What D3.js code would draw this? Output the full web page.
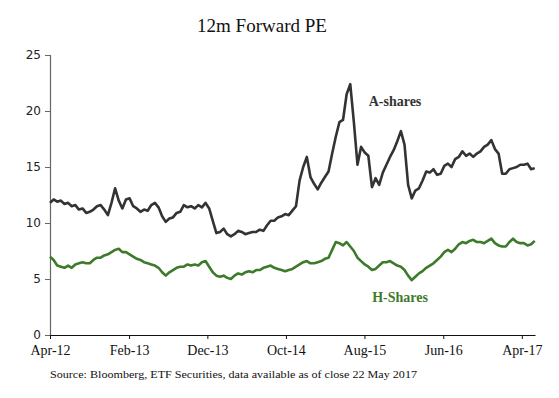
<!DOCTYPE html>
<html>
<head>
<meta charset="utf-8">
<script src="https://cdn.jsdelivr.net/npm/d3@7/dist/d3.min.js"></script>
<style>
  body { margin: 0; background: #fff; }
  svg { display: block; }
</style>
</head>
<body>
<div id="chart"></div>
<script>
// fortnightly readings from 1 Apr 2012 to 21 May 2017
const startDate = '2012-04-01';
const endDate = '2017-05-22';
const stepDays = 14;

const aShares = [
  11.8, 12.1, 11.9, 12.0, 11.7, 11.8, 11.5, 11.6, 11.2, 11.3,
  10.9, 11.0, 11.2, 11.5, 11.6, 11.2, 10.7, 11.8, 13.1, 12.0,
  11.3, 12.1, 12.2, 11.5, 11.3, 11.0, 11.2, 11.1, 11.6, 11.8,
  11.4, 10.6, 10.1, 10.4, 10.5, 10.9, 11.0, 11.6, 11.4, 11.5,
  11.3, 11.6, 11.4, 11.8, 11.3, 10.2, 9.1, 9.2, 9.5, 9.0,
  8.8, 9.0, 9.3, 9.2, 9.0, 9.1, 9.2, 9.2, 9.4, 9.3,
  9.8, 10.2, 10.2, 10.5, 10.6, 10.8, 10.7, 11.1, 11.5, 13.8,
  15.0, 15.9, 14.1, 13.5, 13.0, 13.6, 14.1, 14.6, 16.2, 17.7,
  19.0, 19.2, 21.5, 22.4, 19.0, 15.2, 16.8, 16.3, 16.0, 13.2,
  14.0, 13.4, 14.5, 15.2, 15.9, 16.5, 17.3, 18.2, 17.0, 13.4,
  12.2, 12.9, 13.1, 13.8, 14.6, 14.5, 14.8, 14.3, 14.4, 15.1,
  15.3, 15.0, 15.7, 15.9, 16.4, 16.0, 16.2, 15.9, 16.2, 16.4,
  16.8, 17.0, 17.4, 16.6, 16.2, 14.4, 14.4, 14.8, 14.9, 15.0,
  15.2, 15.2, 15.3, 14.8, 14.9
];

const hShares = [
  7.0, 6.7, 6.2, 6.1, 6.0, 6.2, 6.0, 6.3, 6.4, 6.5,
  6.4, 6.4, 6.7, 6.9, 6.9, 7.1, 7.2, 7.4, 7.6, 7.7,
  7.4, 7.4, 7.2, 7.0, 6.8, 6.7, 6.5, 6.4, 6.3, 6.2,
  6.0, 5.6, 5.3, 5.6, 5.8, 6.0, 6.1, 6.1, 6.3, 6.2,
  6.3, 6.2, 6.5, 6.6, 6.1, 5.6, 5.3, 5.2, 5.3, 5.1,
  5.0, 5.3, 5.5, 5.4, 5.6, 5.7, 5.6, 5.8, 5.8, 6.0,
  6.1, 6.2, 6.0, 5.9, 5.8, 5.7, 5.8, 5.9, 6.1, 6.3,
  6.5, 6.6, 6.4, 6.4, 6.5, 6.6, 6.8, 6.9, 7.6, 8.3,
  8.2, 8.0, 8.3, 7.9, 7.5, 6.9, 6.6, 6.3, 6.1, 5.8,
  5.9, 6.2, 6.5, 6.5, 6.6, 6.4, 6.2, 6.1, 5.8, 5.3,
  4.9, 5.2, 5.5, 5.7, 6.0, 6.2, 6.4, 6.7, 7.0, 7.4,
  7.6, 7.4, 7.7, 8.1, 8.3, 8.2, 8.4, 8.5, 8.3, 8.3,
  8.2, 8.4, 8.6, 8.2, 8.0, 7.9, 7.9, 8.3, 8.6, 8.3,
  8.2, 8.2, 8.0, 8.1, 8.4
];

const tickDates = ['2012-04-01', '2013-02-01', '2013-12-01', '2014-10-01', '2015-08-01', '2016-06-01', '2017-04-01'];
const tickLabels = ['Apr-12', 'Feb-13', 'Dec-13', 'Oct-14', 'Aug-15', 'Jun-16', 'Apr-17'];
const yTicks = [0, 5, 10, 15, 20, 25];

const width = 559, height = 398;
const margin = { left: 50, right: 24, top: 55, bottom: 63 };
const serif = "'Liberation Serif', 'DejaVu Serif', serif";

const parse = d3.timeParse('%Y-%m-%d');
const start = parse(startDate);
const dates = aShares.map((_, i) => d3.timeDay.offset(start, i * stepDays));

const svg = d3.select('#chart').append('svg')
  .attr('width', width)
  .attr('height', height);

const x = d3.scaleTime()
  .domain([start, parse(endDate)])
  .range([margin.left, width - margin.right]);

const y = d3.scaleLinear()
  .domain([0, 25])
  .range([height - margin.bottom, margin.top]);

// title
svg.append('text')
  .attr('x', 262)
  .attr('y', 32)
  .attr('text-anchor', 'middle')
  .style('font-family', serif)
  .style('font-size', '19px')
  .style('fill', '#111')
  .text('12m Forward PE');

// y axis
const yAxis = svg.append('g')
  .attr('transform', 'translate(' + margin.left + ',0)')
  .call(d3.axisLeft(y).tickValues(yTicks).tickSize(5).tickPadding(4));
yAxis.select('.domain').attr('stroke', '#666').attr('stroke-width', 1.2);
yAxis.selectAll('.tick line').attr('stroke', '#666');
yAxis.selectAll('.tick text')
  .style('font-family', "'DejaVu Sans', sans-serif")
  .style('font-size', '12px')
  .style('fill', '#222');

// x axis
const xAxis = svg.append('g')
  .attr('transform', 'translate(0,' + (height - margin.bottom) + ')')
  .call(d3.axisBottom(x)
    .tickValues(tickDates.map(parse))
    .tickFormat((d, i) => tickLabels[i])
    .tickSizeInner(4)
    .tickSizeOuter(0)
    .tickPadding(6));
xAxis.select('.domain').attr('stroke', '#111').attr('stroke-width', 1.2);
xAxis.selectAll('.tick line').attr('stroke', '#111');
xAxis.selectAll('.tick text')
  .style('font-family', serif)
  .style('font-size', '14px')
  .style('fill', '#111');

// series
const line = vals => d3.line()
  .x((d, i) => x(dates[i]))
  .y(d => y(d))(vals);

svg.append('path')
  .attr('d', line(hShares))
  .attr('fill', 'none')
  .attr('stroke', '#3d7a2a')
  .attr('stroke-width', 2.6)
  .attr('stroke-linejoin', 'round');

svg.append('path')
  .attr('d', line(aShares))
  .attr('fill', 'none')
  .attr('stroke', '#333')
  .attr('stroke-width', 2.6)
  .attr('stroke-linejoin', 'round');

// series labels
svg.append('text')
  .attr('x', 395)
  .attr('y', 106)
  .attr('text-anchor', 'middle')
  .style('font-family', serif)
  .style('font-size', '14px')
  .style('font-weight', 'bold')
  .style('fill', '#333')
  .text('A-shares');

svg.append('text')
  .attr('x', 400)
  .attr('y', 302)
  .attr('text-anchor', 'middle')
  .style('font-family', serif)
  .style('font-size', '14px')
  .style('font-weight', 'bold')
  .style('fill', '#3d7a2a')
  .text('H-Shares');

// source note
svg.append('text')
  .attr('x', 50)
  .attr('y', 378)
  .attr('textLength', 367)
  .attr('lengthAdjust', 'spacingAndGlyphs')
  .style('font-family', serif)
  .style('font-size', '11px')
  .style('fill', '#111')
  .text('Source: Bloomberg, ETF Securities, data available as of close 22 May 2017');
</script>
</body>
</html>
